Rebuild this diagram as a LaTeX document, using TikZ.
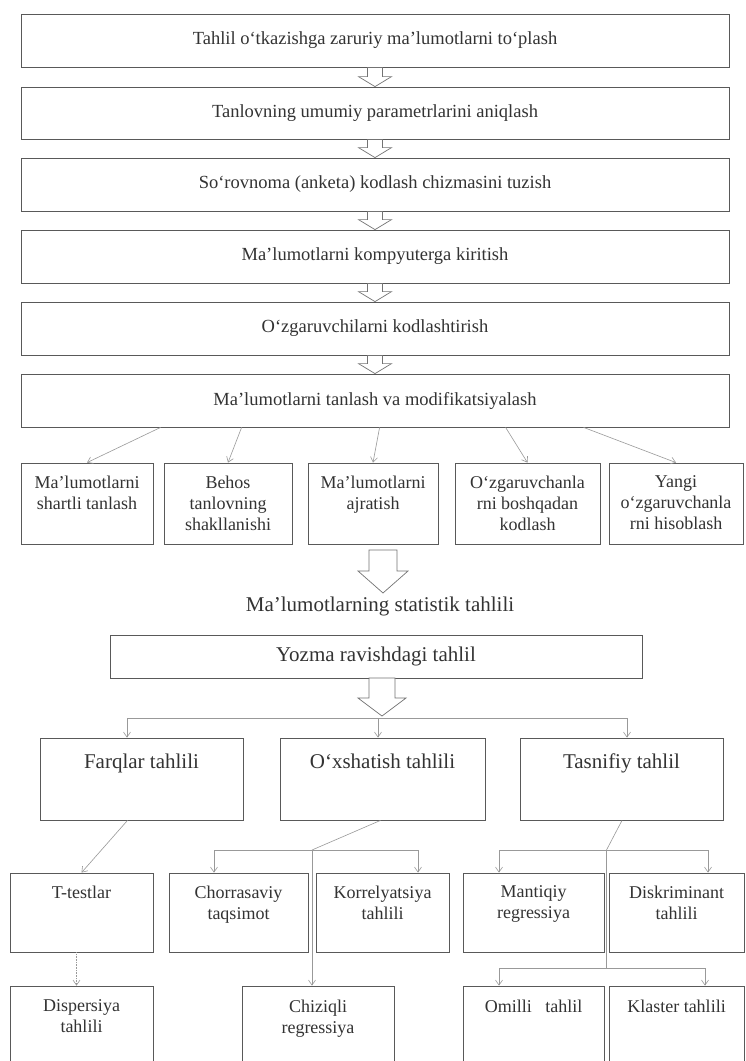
\documentclass[tikz,border=0pt]{standalone}
\usepackage{fontspec}
\setmainfont{Liberation Serif}
\usetikzlibrary{arrows.meta,calc}
\newcommand\fTop{\fontsize{18.5}{22}\selectfont}
\newcommand\fSmall{\fontsize{18}{21}\selectfont}
\newcommand\fMid{\fontsize{21}{24}\selectfont}
\newcommand\mybox[5]{\node[box,minimum width={#4pt-#2pt},minimum height={#5pt-#3pt}] (#1) at ({(#2+#4)/2},{(#3+#5)/2}) {};}
\newcommand\toptext[4]{\node[txt,font=#2,anchor=north,yshift=-#3pt] at (#1.north) {#4};}
\newcommand\blockarrow[5]{\draw[hollow] ($(#1)+(-#3,0)$) -- ($(#2)+(-#3,-#5)$) -- ($(#2)+(-#4,-#5)$) -- (#2) -- ($(#2)+(#4,-#5)$) -- ($(#2)+(#3,-#5)$) -- ($(#1)+(#3,0)$) -- cycle;}
\begin{document}
\begin{tikzpicture}[x=1pt,y=-1pt,
  box/.style={draw=black!65,line width=0.8pt,rectangle,inner sep=0pt,fill=white},
  txt/.style={text=black!80,align=center,inner sep=0pt},
  conn/.style={draw=black!40,line width=0.6pt,-{Straight Barb[length=5pt,width=7pt]}},
  cline/.style={draw=black!40,line width=0.6pt},
  hollow/.style={draw=black!55,line width=0.7pt,fill=white,line join=miter}]
\useasboundingbox (0,0) rectangle (745,1061);
\fill[white] (0,0) rectangle (745,1061);
% top chain
\mybox{B1}{21}{14}{729}{67}
\mybox{B2}{21}{87}{729}{139}
\mybox{B3}{21}{158}{729}{211}
\mybox{B4}{21}{230}{729}{283}
\mybox{B5}{21}{302}{729}{355}
\mybox{B6}{21}{374}{729}{427}
\node[txt,font=\fTop] at (B1) {Tahlil o‘tkazishga zaruriy ma’lumotlarni to‘plash};
\node[txt,font=\fTop] at (B2) {Tanlovning umumiy parametrlarini aniqlash};
\node[txt,font=\fTop] at (B3) {So‘rovnoma (anketa) kodlash chizmasini tuzish};
\node[txt,font=\fTop] at (B4) {Ma’lumotlarni kompyuterga kiritish};
\node[txt,font=\fTop] at (B5) {O‘zgaruvchilarni kodlashtirish};
\node[txt,font=\fTop] at (B6) {Ma’lumotlarni tanlash va modifikatsiyalash};
\blockarrow{B1.south}{B2.north}{7.5}{16.5}{10}
\blockarrow{B2.south}{B3.north}{7.5}{16.5}{10}
\blockarrow{B3.south}{B4.north}{7.5}{16.5}{10}
\blockarrow{B4.south}{B5.north}{7.5}{16.5}{10}
\blockarrow{B5.south}{B6.north}{7.5}{16.5}{10}
% five boxes
\mybox{S1}{21}{463}{153}{544}
\mybox{S2}{164}{463}{292}{544}
\mybox{S3}{308}{463}{438}{544}
\mybox{S4}{455}{463}{600}{544}
\mybox{S5}{609}{463}{743}{544}
\toptext{S1}{\fSmall}{13}{Ma’lumotlarni\\ shartli tanlash}
\toptext{S2}{\fSmall}{13}{Behos\\ tanlovning\\ shakllanishi}
\toptext{S3}{\fSmall}{13}{Ma’lumotlarni\\ ajratish}
\toptext{S4}{\fSmall}{13}{O‘zgaruvchanla\\ rni boshqadan\\ kodlash}
\toptext{S5}{\fSmall}{13}{Yangi\\ o‘zgaruvchanla\\ rni hisoblash}
\draw[conn] ($(B6.south west)+(140,0)$) -- (S1.north);
\draw[conn] ($(B6.south west)+(221,0)$) -- (S2.north);
\draw[conn] ($(B6.south west)+(359,0)$) -- (S3.north);
\draw[conn] ($(B6.south west)+(485,0)$) -- (S4.north);
\draw[conn] ($(B6.south west)+(563,0)$) -- (S5.north);
% statistics
\coordinate (A1) at (383,550);
\coordinate (A1e) at (383,593);
\blockarrow{A1}{A1e}{14}{25}{22}
\node[txt,font=\fMid] (ST) at (380,606) {Ma’lumotlarning statistik tahlili};
\mybox{Y}{110}{635}{642}{678}
\node[txt,font=\fMid] at (Y) {Yozma ravishdagi tahlil};
\coordinate (A2s) at (382,678);
\coordinate (A2e) at (382,716);
\blockarrow{A2s}{A2e}{13}{24}{18}
% three analysis boxes
\mybox{F}{40}{738}{243}{820}
\mybox{O}{280}{738}{485}{820}
\mybox{T}{520}{738}{723}{820}
\toptext{F}{\fMid}{16}{Farqlar tahlili}
\toptext{O}{\fMid}{16}{O‘xshatish tahlili}
\toptext{T}{\fMid}{16}{Tasnifiy tahlil}
\coordinate (J1) at (127,718);
\coordinate (J2) at (378,718);
\coordinate (J3) at (627,718);
\draw[cline] (J1) -- (J3);
\draw[conn] (J1) -- (J1 |- F.north);
\draw[conn] (J2) -- (J2 |- O.north);
\draw[conn] (J3) -- (J3 |- T.north);
% second level
\mybox{TT}{10}{873}{153}{952}
\mybox{CH}{169}{873}{308}{952}
\mybox{KO}{316}{873}{449}{952}
\mybox{MA}{463}{873}{604}{952}
\mybox{DI}{609}{873}{744}{952}
\toptext{TT}{\fSmall}{13}{T-testlar}
\toptext{CH}{\fSmall}{13}{Chorrasaviy\\ taqsimot}
\toptext{KO}{\fSmall}{13}{Korrelyatsiya\\ tahlili}
\toptext{MA}{\fSmall}{13}{Mantiqiy\\ regressiya}
\toptext{DI}{\fSmall}{13}{Diskriminant\\ tahlili}
% third level
\mybox{DP}{10}{986}{153}{1066}
\mybox{CZ}{242}{986}{394}{1066}
\mybox{OM}{463}{986}{604}{1066}
\mybox{KL}{609}{986}{744}{1066}
\toptext{DP}{\fSmall}{14}{Dispersiya\\ tahlili}
\toptext{CZ}{\fSmall}{14}{Chiziqli\\ regressiya}
\toptext{OM}{\fSmall}{14}{Omilli\ \ \ tahlil}
\toptext{KL}{\fSmall}{14}{Klaster tahlili}
% connectors
\draw[conn] ($(F.south)+(-14,0)$) -- (TT.north);
\coordinate (K1) at (312,850);
\coordinate (K1a) at (214,850);
\coordinate (K1b) at (418,850);
\draw[cline] ($(O.south)+(-2,0)$) -- (K1);
\draw[cline] (K1a) -- (K1b);
\draw[conn] (K1) -- (K1 |- CZ.north);
\draw[conn] (K1a) -- (K1a |- CH.north);
\draw[conn] (K1b) -- (K1b |- KO.north);
\coordinate (K2) at (606.5,850);
\coordinate (K2a) at (499,850);
\coordinate (K2b) at (708,850);
\coordinate (K3) at (606.5,968);
\coordinate (K3a) at (499,968);
\coordinate (K3b) at (705,968);
\draw[cline] ($(T.south)+(0.5,0)$) -- (K2) -- (K3);
\draw[cline] (K2a) -- (K2b);
\draw[conn] (K2a) -- (K2a |- MA.north);
\draw[conn] (K2b) -- (K2b |- DI.north);
\draw[cline] (K3a) -- (K3b);
\draw[conn] (K3a) -- (K3a |- OM.north);
\draw[conn] (K3b) -- (K3b |- KL.north);
\draw[conn,densely dotted] ($(TT.south)+(-5,0)$) -- ($(DP.north)+(-5,0)$);
\end{tikzpicture}
\end{document}
